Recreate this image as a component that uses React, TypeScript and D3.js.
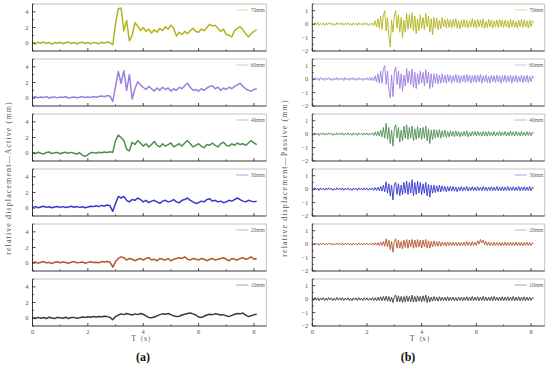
import * as d3 from 'd3';

// sampling interval of the recorded traces (s)
const STEP_ACTIVE = 0.1;
const STEP_PASSIVE = 0.05;

const depths = ['70mm', '60mm', '40mm', '30mm', '20mm', '10mm'];
const colors = ['#b2b41e', '#9a7ee0', '#4e8e50', '#3636cf', '#b4552e', '#3a3a3a'];

const xTicks = [0, 2, 4, 6, 8];
const xMinor = [1, 3, 5, 7];
const activeTicks = [0, 2, 4];
const activeMinor = [-1, 1, 3, 5];
const passiveTicks = [-2, -1, 0, 1];
const passiveMinor = [-1.5, -0.5, 0.5, 1.5];

// ---- Active side (mm), one value every 0.1 s ----
const active70 = [
  0.05, -0.1, 0.12, 0.0, 0.15, -0.05, 0.1, -0.12, 0.08, 0.0,
  0.12, -0.08, 0.05, 0.14, -0.05, 0.1, -0.1, 0.06, 0.12, -0.04,
  0.08, -0.1, 0.1, 0.02, -0.08, 0.12, 0.0, 0.15, 0.05, -0.2,
  2.5, 4.4, 4.5, 1.6, 2.9, 0.3, 1.0, 2.6, 2.2, 1.6,
  2.0, 1.5, 1.8, 1.3, 1.7, 1.4, 1.9, 1.6, 2.1, 1.8,
  2.3, 1.9, 0.9, 1.4, 1.1, 1.5, 1.2, 1.6, 1.9, 1.5,
  1.4, 1.8, 1.6, 2.0, 2.4, 2.2, 2.3, 1.9, 1.5, 1.8,
  1.1, 1.0, 0.8, 1.6, 1.9, 2.1, 1.7, 1.2, 0.8, 1.2,
  1.5, 1.7,
];
const active60 = [
  0.1, 0.18, 0.05, 0.15, 0.08, 0.2, 0.02, 0.12, 0.16, 0.04,
  0.14, 0.08, 0.18, 0.02, 0.1, 0.15, 0.05, 0.12, 0.2, 0.08,
  0.14, 0.1, 0.22, 0.12, 0.2, 0.28, 0.18, 0.35, 0.25, -0.4,
  1.5, 3.4, 1.9, 3.5, 1.0, 3.0, -0.1, 1.2, 2.1, 1.7,
  1.4, 1.1, 1.5, 1.2, 0.9, 1.3, 1.0, 1.4, 1.1, 1.3,
  0.9, 1.2, 1.0, 1.4, 1.2, 1.6, 1.9, 1.4, 1.0, 1.1,
  0.9, 1.2, 1.0, 1.3, 1.5, 1.6, 1.2, 1.4, 1.0, 1.3,
  1.1, 1.4, 1.2, 1.5, 1.7, 1.9, 1.5, 1.2, 1.0, 0.9,
  1.1, 1.2,
];
const active40 = [
  0.1, -0.05, 0.12, 0.0, -0.1, 0.08, 0.15, -0.05, 0.05, 0.1,
  -0.08, 0.06, 0.12, -0.02, 0.1, 0.0, -0.1, 0.05, -0.25, -0.4,
  -0.2, 0.05, 0.1, 0.0, 0.12, 0.05, 0.15, 0.08, 0.18, 0.1,
  1.6, 2.3, 2.0, 1.6, 0.5, 0.3, 1.4, 1.1, 1.6, 1.3,
  0.9, 1.2, 0.8, 1.1, 1.5, 1.0, 0.8, 1.2, 0.9, 1.1,
  1.3, 0.8, 1.0, 1.2, 0.9, 1.3, 1.6, 1.2, 0.8, 1.0,
  1.2, 0.9, 0.7, 1.1, 1.0, 1.3, 1.0, 0.8, 1.2, 1.4,
  1.0, 0.9, 1.2, 1.0, 1.3, 1.1, 1.2, 1.0, 1.3, 1.6,
  1.3, 1.1,
];
const active30 = [
  0.1, 0.2, 0.05, 0.15, 0.25, 0.1, 0.18, 0.05, 0.15, 0.22,
  0.1, 0.2, 0.08, 0.16, 0.25, 0.12, 0.2, 0.1, 0.18, 0.06,
  0.15, 0.25, 0.2, 0.3, 0.2, 0.35, 0.28, 0.4, 0.3, -0.4,
  0.6, 1.5, 1.3, 1.5, 1.0, 0.8, 1.1, 1.0, 1.3, 1.1,
  0.8, 1.0, 0.7, 0.9, 1.0, 0.8, 0.6, 0.9, 1.0, 0.8,
  0.9, 1.1, 0.8, 0.7, 1.0, 1.1, 1.3, 1.0, 0.8, 0.6,
  0.7, 0.9, 0.8, 1.1, 1.2, 0.9, 1.0, 0.8, 0.9, 0.7,
  0.8, 1.0, 0.9, 1.1, 1.3, 1.1, 0.9, 0.8, 1.0, 0.9,
  0.8, 0.9,
];
const active20 = [
  0.05, 0.15, 0.0, 0.12, 0.2, 0.05, 0.1, -0.05, 0.12, 0.18,
  0.05, 0.15, 0.08, 0.0, 0.12, 0.2, 0.06, 0.1, 0.15, 0.0,
  0.1, 0.18, 0.08, 0.12, 0.05, 0.2, 0.15, 0.22, 0.12, -0.5,
  0.2, 0.6, 0.8, 0.7, 0.4, 0.6, 0.5, 0.3, 0.5, 0.6,
  0.4, 0.6, 0.7, 0.4, 0.5, 0.3, 0.6, 0.5, 0.4, 0.6,
  0.3, 0.5, 0.6, 0.7, 0.6, 0.8, 0.5, 0.4, 0.6, 0.5,
  0.4, 0.6, 0.5, 0.3, 0.5, 0.6, 0.4, 0.5, 0.6, 0.7,
  0.5, 0.3, 0.6, 0.5, 0.4, 0.6, 0.7, 0.5, 0.6, 0.8,
  0.5, 0.6,
];
const active10 = [
  0.05, -0.05, 0.1, 0.0, 0.08, -0.05, 0.12, 0.02, -0.04, 0.1,
  0.05, 0.0, 0.12, -0.05, 0.08, 0.1, 0.0, 0.06, 0.15, 0.1,
  0.18, 0.12, 0.2, 0.15, 0.22, 0.18, 0.25, 0.2, 0.1, -0.2,
  0.2, 0.4, 0.55, 0.45, 0.6, 0.5, 0.4, 0.55, 0.45, 0.6,
  0.5, 0.3, 0.1, 0.05, 0.15, 0.3, 0.45, 0.55, 0.5, 0.6,
  0.45, 0.3, 0.2, 0.25, 0.4, 0.5, 0.6, 0.65, 0.55, 0.4,
  0.15, 0.1, 0.25, 0.4, 0.5, 0.45, 0.55, 0.5, 0.4, 0.45,
  0.3, 0.2, 0.35, 0.5, 0.6, 0.55, 0.65, 0.4, 0.2, 0.3,
  0.45, 0.5,
];

// ---- Passive side (mm), one value every 0.05 s ----
const passive70 = [
  0.05, -0.08, 0.1, -0.05, 0.12, -0.1, 0.06, -0.04, 0.1, -0.12, 0.08, -0.06, 0.12, -0.02, 0.09, -0.1, 0.05, -0.08, 0.11, -0.03,
  0.1, -0.06, 0.12, -0.09, 0.07, -0.04, 0.13, -0.08, 0.06, -0.1, 0.1, -0.05, 0.08, -0.12, 0.11, -0.04, 0.07, -0.09, 0.12, -0.06,
  0.08, -0.1, 0.06, -0.05, 0.1, -0.12, 0.25, -0.2, 0.4, -0.3, 0.6, -0.4, 0.7, 1.0, -0.5, 0.5, -0.9, -1.7, 0.3, -0.6,
  0.6, 1.0, -0.3, 0.7, -0.6, 0.5, -1.0, 0.3, -0.6, 0.8, -0.4, 0.7, -0.3, 0.85, -0.5, 0.6, -0.7, 0.4, -0.5, 0.7,
  -0.3, 0.5, -0.4, 0.8, -0.2, 0.6, -0.6, 0.4, -0.8, 0.5, -0.3, 0.45, -0.4, 0.3, -0.35, 0.5, -0.2, 0.35, -0.3, 0.4,
  -0.25, 0.3, -0.3, 0.35, -0.2, 0.4, -0.3, 0.25, -0.35, 0.3, -0.2, 0.35, -0.25, 0.3, -0.3, 0.25, -0.2, 0.4, -0.25, 0.3,
  -0.3, 0.35, -0.2, 0.3, -0.25, 0.4, -0.3, 0.2, -0.25, 0.35, -0.2, 0.3, -0.3, 0.25, -0.2, 0.3, -0.25, 0.35, -0.2, 0.3,
  -0.25, 0.3, -0.2, 0.25, -0.3, 0.35, -0.2, 0.3, -0.25, 0.2, -0.3, 0.3, -0.2, 0.35, -0.25, 0.3, -0.2, 0.25, -0.3, 0.3,
  -0.2, 0.25, 0.1,
];
const passive60 = [
  0.06, -0.08, 0.1, -0.06, 0.09, -0.1, 0.12, -0.05, 0.08, -0.1, 0.1, -0.04, 0.11, -0.08, 0.06, -0.1, 0.09, -0.06, 0.12, -0.08,
  0.08, -0.05, 0.1, -0.1, 0.12, -0.06, 0.07, -0.09, 0.1, -0.04, 0.12, -0.1, 0.06, -0.08, 0.11, -0.05, 0.09, -0.1, 0.08, -0.06,
  0.1, -0.08, 0.12, -0.1, 0.15, -0.12, 0.25, -0.2, 0.4, -0.3, 0.6, -0.3, 0.8, 1.0, -0.4, 0.6, -0.8, -1.4, 0.3, -1.3,
  0.5, 0.9, -0.4, 0.6, -0.7, 0.4, -0.9, 0.3, -0.5, 0.8, -0.3, 0.6, -0.4, 0.75, -0.6, 0.5, -0.7, 0.4, -0.4, 0.6,
  -0.3, 0.5, -0.5, 0.7, -0.3, 0.5, -0.7, 0.4, -0.6, 0.4, -0.3, 0.4, -0.35, 0.3, -0.3, 0.4, -0.25, 0.3, -0.3, 0.35,
  -0.2, 0.3, -0.3, 0.25, -0.2, 0.35, -0.25, 0.3, -0.3, 0.25, -0.2, 0.3, -0.25, 0.35, -0.2, 0.3, -0.3, 0.25, -0.2, 0.3,
  -0.25, 0.3, -0.2, 0.35, -0.3, 0.25, -0.2, 0.3, -0.25, 0.2, -0.3, 0.3, -0.2, 0.25, -0.25, 0.3, -0.2, 0.25, -0.3, 0.25,
  -0.2, 0.3, -0.25, 0.25, -0.2, 0.3, -0.3, 0.25, -0.2, 0.3, -0.25, 0.2, -0.2, 0.3, -0.25, 0.25, -0.2, 0.3, -0.25, 0.2,
  -0.2, 0.25, 0.05,
];
const passive40 = [
  0.05, -0.08, 0.1, -0.05, 0.08, -0.1, 0.07, -0.04, 0.1, -0.08, 0.06, -0.06, 0.1, -0.03, 0.08, -0.09, 0.05, -0.07, 0.1, -0.05,
  0.09, -0.06, 0.1, -0.08, 0.06, -0.05, 0.11, -0.07, 0.05, -0.09, 0.1, -0.05, 0.07, -0.1, 0.09, -0.04, 0.06, -0.08, 0.1, -0.06,
  0.08, -0.08, 0.06, -0.05, 0.1, -0.1, 0.15, -0.12, 0.2, -0.15, 0.3, -0.2, 0.5, -0.3, 0.8, -0.4, 0.5, -0.7, 0.3, -0.9,
  0.4, 0.7, -0.3, 0.5, -0.6, 0.3, -0.5, 0.6, -0.3, 0.7, -0.4, 0.5, -0.3, 0.6, -0.5, 0.4, -0.4, 0.55, -0.3, 0.45,
  -0.4, 0.5, -0.3, 0.6, -0.5, 0.4, -0.7, 0.3, -0.4, 0.35, -0.3, 0.3, -0.25, 0.35, -0.3, 0.25, -0.2, 0.3, -0.25, 0.2,
  -0.2, 0.25, -0.15, 0.2, -0.2, 0.25, -0.15, 0.2, -0.2, 0.15, -0.15, 0.2, -0.15, 0.25, -0.2, 0.15, -0.15, 0.2, -0.1, 0.2,
  -0.15, 0.2, -0.1, 0.15, -0.15, 0.2, -0.12, 0.18, -0.15, 0.2, -0.1, 0.15, -0.12, 0.2, -0.15, 0.15, -0.1, 0.2, -0.12, 0.15,
  -0.1, 0.2, -0.15, 0.15, -0.12, 0.22, -0.1, 0.18, -0.15, 0.2, -0.1, 0.15, -0.12, 0.2, -0.1, 0.15, -0.12, 0.18, -0.1, 0.15,
  -0.12, 0.15, 0.05,
];
const passive30 = [
  0.06, -0.08, 0.1, -0.06, 0.08, -0.1, 0.1, -0.05, 0.07, -0.09, 0.09, -0.06, 0.1, -0.04, 0.08, -0.1, 0.06, -0.07, 0.1, -0.05,
  0.08, -0.07, 0.1, -0.09, 0.07, -0.05, 0.1, -0.08, 0.06, -0.1, 0.09, -0.05, 0.08, -0.09, 0.1, -0.05, 0.07, -0.08, 0.1, -0.06,
  0.08, -0.08, 0.07, -0.06, 0.1, -0.1, 0.12, -0.1, 0.15, -0.12, 0.2, -0.15, 0.3, -0.2, 0.55, -0.3, 0.4, -0.5, 0.3, -0.8,
  0.3, 0.5, -0.4, 0.4, -0.5, 0.3, -0.4, 0.5, -0.3, 0.6, -0.4, 0.5, -0.3, 0.7, -0.5, 0.5, -0.4, 0.6, -0.3, 0.5,
  -0.4, 0.4, -0.3, 0.5, -0.5, 0.35, -0.6, 0.3, -0.3, 0.3, -0.25, 0.25, -0.2, 0.3, -0.2, 0.25, -0.15, 0.2, -0.2, 0.2,
  -0.15, 0.2, -0.15, 0.2, -0.15, 0.15, -0.2, 0.15, -0.12, 0.2, -0.15, 0.15, -0.1, 0.2, -0.15, 0.15, -0.1, 0.18, -0.12, 0.15,
  -0.12, 0.18, -0.1, 0.15, -0.12, 0.2, -0.1, 0.15, -0.12, 0.15, -0.1, 0.18, -0.12, 0.15, -0.1, 0.2, -0.12, 0.15, -0.1, 0.18,
  -0.12, 0.15, -0.1, 0.2, -0.12, 0.15, -0.1, 0.18, -0.12, 0.15, -0.1, 0.2, -0.12, 0.15, -0.1, 0.18, -0.12, 0.15, -0.1, 0.2,
  -0.12, 0.15, 0.05,
];
const passive20 = [
  0.05, -0.06, 0.08, -0.05, 0.07, -0.08, 0.06, -0.04, 0.08, -0.07, 0.06, -0.05, 0.09, -0.03, 0.07, -0.08, 0.05, -0.06, 0.08, -0.05,
  0.07, -0.05, 0.08, -0.07, 0.06, -0.04, 0.09, -0.06, 0.05, -0.08, 0.08, -0.04, 0.06, -0.08, 0.09, -0.04, 0.06, -0.07, 0.08, -0.05,
  0.07, -0.06, 0.06, -0.05, 0.08, -0.08, 0.1, -0.08, 0.12, -0.1, 0.15, -0.1, 0.2, -0.15, 0.4, -0.2, 0.3, -0.4, 0.2, -0.6,
  0.2, 0.4, -0.3, 0.3, -0.3, 0.2, -0.35, 0.3, -0.25, 0.35, -0.3, 0.3, -0.2, 0.35, -0.3, 0.3, -0.25, 0.35, -0.2, 0.3,
  -0.3, 0.3, -0.2, 0.35, -0.3, 0.25, -0.3, 0.2, -0.2, 0.25, -0.15, 0.2, -0.15, 0.2, -0.15, 0.15, -0.1, 0.15, -0.15, 0.15,
  -0.1, 0.15, -0.12, 0.15, -0.1, 0.12, -0.12, 0.15, -0.1, 0.12, -0.1, 0.15, -0.12, 0.2, -0.1, 0.15, -0.12, 0.18, -0.1, 0.15,
  -0.1, 0.25, 0.0, 0.35, 0.1, 0.3, -0.05, 0.2, -0.1, 0.15, -0.1, 0.12, -0.12, 0.15, -0.1, 0.12, -0.1, 0.15, -0.12, 0.12,
  -0.1, 0.15, -0.12, 0.12, -0.1, 0.15, -0.1, 0.12, -0.12, 0.15, -0.1, 0.12, -0.1, 0.15, -0.12, 0.12, -0.1, 0.15, -0.1, 0.12,
  -0.1, 0.12, 0.02,
];
const passive10 = [
  0.08, -0.1, 0.12, -0.08, 0.1, -0.12, 0.09, -0.06, 0.11, -0.1, 0.08, -0.08, 0.12, -0.06, 0.1, -0.11, 0.07, -0.09, 0.12, -0.07,
  0.1, -0.08, 0.12, -0.1, 0.08, -0.07, 0.11, -0.1, 0.07, -0.12, 0.1, -0.06, 0.09, -0.1, 0.12, -0.07, 0.08, -0.1, 0.11, -0.08,
  0.1, -0.09, 0.08, -0.08, 0.12, -0.1, 0.1, -0.12, 0.15, -0.1, 0.18, -0.12, 0.2, -0.1, 0.22, -0.15, 0.2, -0.18, 0.15, -0.25,
  0.15, 0.3, -0.2, 0.25, -0.2, 0.2, -0.25, 0.2, -0.2, 0.25, -0.18, 0.2, -0.2, 0.3, -0.22, 0.2, -0.2, 0.25, -0.15, 0.2,
  -0.2, 0.25, -0.15, 0.3, -0.25, 0.2, -0.2, 0.15, -0.15, 0.2, -0.12, 0.15, -0.15, 0.18, -0.12, 0.15, -0.12, 0.15, -0.12, 0.18,
  -0.12, 0.15, -0.1, 0.15, -0.12, 0.12, -0.12, 0.15, -0.1, 0.15, -0.12, 0.15, -0.1, 0.18, -0.12, 0.15, -0.1, 0.2, -0.12, 0.15,
  -0.1, 0.18, -0.12, 0.15, -0.1, 0.2, -0.12, 0.15, -0.12, 0.15, -0.1, 0.18, -0.12, 0.2, -0.1, 0.15, -0.12, 0.15, -0.1, 0.18,
  -0.12, 0.15, -0.1, 0.18, -0.12, 0.15, -0.1, 0.2, -0.12, 0.15, -0.1, 0.18, -0.12, 0.15, -0.1, 0.18, -0.12, 0.15, -0.1, 0.15,
  -0.1, 0.12, 0.05,
];

const activeSeries = [active70, active60, active40, active30, active20, active10];
const passiveSeries = [passive70, passive60, passive40, passive30, passive20, passive10];

const PANEL_TOPS = [4, 59, 114, 169, 224, 279];
const PANEL_H = 47;
const FONT = "'Liberation Serif', 'DejaVu Serif', serif";
const fmt = d3.format('d');

interface PanelProps {
  top: number;
  x: d3.ScaleLinear<number, number>;
  yDomain: [number, number];
  ticks: number[];
  minor: number[];
  values: number[];
  step: number;
  color: string;
  label: string;
  last: boolean;
  lineWidth: number;
}

const Panel = ({ top, x, yDomain, ticks, minor, values, step, color, label, last, lineWidth }: PanelProps) => {
  const y = d3.scaleLinear().domain(yDomain).range([top + PANEL_H, top]);
  const [x0, x1] = x.range();
  const bottom = top + PANEL_H;
  const line = d3.line<number>()
    .x((_, i) => x(i * step))
    .y(d => y(d));

  return (
    <g>
      {/* frame: light top/right, dark left/bottom */}
      <line x1={x0} x2={x1} y1={top} y2={top} stroke="#aaa" strokeWidth={0.7} />
      <line x1={x1} x2={x1} y1={top} y2={bottom} stroke="#aaa" strokeWidth={0.7} />
      <path d={line(values) || ''} fill="none" stroke={color} strokeWidth={lineWidth} strokeLinejoin="round" />
      <line x1={x0} x2={x1} y1={bottom} y2={bottom} stroke="#222" strokeWidth={0.9} />
      <line x1={x0} x2={x0} y1={top} y2={bottom} stroke="#222" strokeWidth={0.9} />

      {xTicks.map(t => (
        <line key={'xt' + t} x1={x(t)} x2={x(t)} y1={bottom} y2={bottom - 3} stroke="#222" strokeWidth={0.8} />
      ))}
      {xMinor.map(t => (
        <line key={'xm' + t} x1={x(t)} x2={x(t)} y1={bottom} y2={bottom - 1.6} stroke="#222" strokeWidth={0.7} />
      ))}
      {ticks.map(t => (
        <g key={'yt' + t}>
          <line x1={x0} x2={x0 + 3} y1={y(t)} y2={y(t)} stroke="#222" strokeWidth={0.8} />
          <text x={x0 - 4} y={y(t)} dy="0.35em" textAnchor="end" fontSize={6.5} fill="#555" fontFamily={FONT}>
            {fmt(t)}
          </text>
        </g>
      ))}
      {minor.map(t => (
        <line key={'ym' + t} x1={x0} x2={x0 + 1.6} y1={y(t)} y2={y(t)} stroke="#222" strokeWidth={0.7} />
      ))}
      {last && xTicks.map(t => (
        <text key={'xl' + t} x={x(t)} y={bottom + 8} textAnchor="middle" fontSize={6.5} fill="#555" fontFamily={FONT}>
          {fmt(t)}
        </text>
      ))}

      {/* legend */}
      <line x1={x1 - 30} x2={x1 - 18} y1={top + 6} y2={top + 6} stroke={color} strokeOpacity={0.6} strokeWidth={0.8} />
      <text x={x1 - 1.5} y={top + 6} dy="0.35em" textAnchor="end" fontSize={5.5} fill="#666" fontFamily={FONT}>
        {label}
      </text>
    </g>
  );
};

export default function App() {
  const xActive = d3.scaleLinear().domain([0, 8.45]).range([32.5, 266.4]);
  const xPassive = d3.scaleLinear().domain([0, 8.5]).range([312.3, 544.7]);

  return (
    <svg width={550} height={368} style={{ position: 'absolute', left: 0, top: 0, background: '#fff' }}>
      <rect width={550} height={368} fill="#fff" />
      {depths.map((d, i) => (
        <Panel key={'a' + d} top={PANEL_TOPS[i]} x={xActive} yDomain={[-1, 5]} ticks={activeTicks}
          minor={activeMinor} values={activeSeries[i]} step={STEP_ACTIVE} color={colors[i]} label={d}
          last={i === depths.length - 1} lineWidth={1.5} />
      ))}
      {depths.map((d, i) => (
        <Panel key={'p' + d} top={PANEL_TOPS[i]} x={xPassive} yDomain={[-2, 1.5]} ticks={passiveTicks}
          minor={passiveMinor} values={passiveSeries[i]} step={STEP_PASSIVE} color={colors[i]} label={d}
          last={i === depths.length - 1} lineWidth={0.9} />
      ))}

      {/* axis titles */}
      <text transform="translate(8,178) rotate(-90)" textAnchor="middle" dominantBaseline="central"
        fontSize={8} letterSpacing={1.1} fill="#555" fontFamily={FONT}>
        relative displacement—Active (mm)
      </text>
      <text transform="translate(284,178) rotate(-90)" textAnchor="middle" dominantBaseline="central"
        fontSize={8} letterSpacing={1.1} fill="#555" fontFamily={FONT}>
        relative displacement—Passive (mm)
      </text>
      <text x={xActive(4)} y={341} textAnchor="middle" fontSize={8} fill="#555" fontFamily={FONT}>T（s）</text>
      <text x={xPassive(4)} y={341} textAnchor="middle" fontSize={8} fill="#555" fontFamily={FONT}>T（s）</text>

      <text x={143} y={361} textAnchor="middle" fontSize={12} fontWeight="bold" fill="#111" fontFamily={FONT}>(a)</text>
      <text x={408} y={361} textAnchor="middle" fontSize={12} fontWeight="bold" fill="#111" fontFamily={FONT}>(b)</text>
    </svg>
  );
}
